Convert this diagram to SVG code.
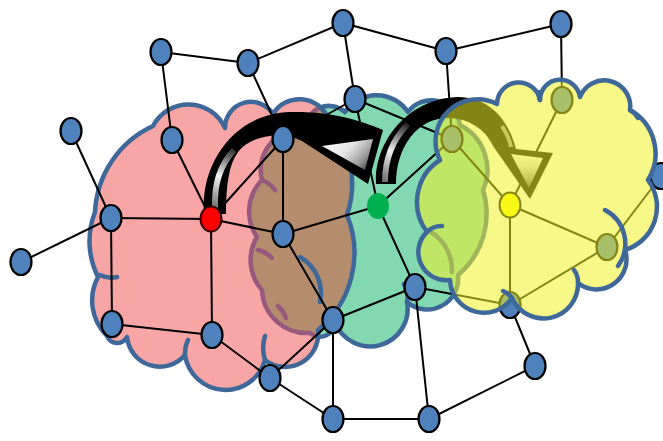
<svg xmlns="http://www.w3.org/2000/svg" xmlns:xlink="http://www.w3.org/1999/xlink" width="663" height="441" viewBox="0 0 663 441">
  <style>
    .cl-edge { fill: none; stroke: #3d6899; stroke-width: 4.5; stroke-linejoin: round; stroke-linecap: round; }
    .cl-purple { fill: none; stroke: #985a7c; stroke-width: 4.5; stroke-linejoin: round; stroke-linecap: round; }
    .conn line { stroke: #000; stroke-width: 2; }
    .nd { fill: #4f81bd; stroke: #000; stroke-width: 2.2; }
  </style>
  <defs>
    <path id="pinkShape" d="M 107,336 A 50 50 0 0 1 98,277 A 80 80 0 0 1 95,212 A 100 100 0 0 1 153,126 A 40 40 0 0 1 225,128 A 26 26 0 0 1 273,114 A 31 31 0 0 1 328,118 A 100 100 0 0 1 347,215 A 100 100 0 0 1 318,330 A 33 33 0 0 1 265,360 A 41 41 0 0 1 185,355 A 33 33 0 0 1 127,337 A 11 11 0 0 1 107,336 Z"/>
    <path id="greenShape" d="M 310,333 A 45 45 0 0 1 262,290 A 45 45 0 0 1 257,237 A 45 45 0 0 1 262,180 A 40 40 0 0 1 305,130 A 24 24 0 0 1 345,112 A 38 38 0 0 1 408,112 A 29 29 0 0 1 460,125 A 50 50 0 0 1 483,190 A 80 80 0 0 1 458,275 A 31 31 0 0 1 407,302 A 37.5 37.5 0 0 1 335,322 A 15 15 0 0 1 310,333 Z"/>
    <path id="greenHooks" d="M 262,180 A 30 30 0 0 1 275,190 M 258,250 A 30 30 0 0 1 272,258 M 278,306 A 30 30 0 0 1 286,318 M 407,302 A 25 25 0 0 0 404,284 M 431,232 A 45 45 0 0 1 452,272"/>
    <path id="yellowShape" d="M 427,232 A 50 50 0 0 1 440,160 A 42 42 0 0 1 497,104 A 21.7 21.7 0 0 1 540,100 A 20.1 20.1 0 0 1 580,97 A 26 26 0 0 1 630,110 A 50 50 0 0 1 648,180 A 45 45 0 0 1 625,250 A 30 30 0 0 1 578,283 A 34.5 34.5 0 0 1 512,298 A 34 34 0 0 1 450,280 A 28 28 0 0 1 427,232 Z"/>
    <clipPath id="inPink"><use xlink:href="#pinkShape"/></clipPath>
    <linearGradient id="stripA" gradientUnits="userSpaceOnUse" x1="215" y1="208" x2="236" y2="148">
      <stop offset="0" stop-color="#6e6e6e"/>
      <stop offset="0.5" stop-color="#f4f4f4"/>
      <stop offset="1" stop-color="#222"/>
    </linearGradient>
    <linearGradient id="stripB" gradientUnits="userSpaceOnUse" x1="385" y1="182" x2="408" y2="124">
      <stop offset="0" stop-color="#6e6e6e"/>
      <stop offset="0.5" stop-color="#f0f0f0"/>
      <stop offset="1" stop-color="#222"/>
    </linearGradient>
    <linearGradient id="headA" gradientUnits="userSpaceOnUse" x1="325" y1="138" x2="366" y2="176">
      <stop offset="0" stop-color="#ffffff"/>
      <stop offset="0.45" stop-color="#e4e4e4"/>
      <stop offset="0.75" stop-color="#9a9a9a"/>
      <stop offset="1" stop-color="#2a2a2a"/>
    </linearGradient>
    <linearGradient id="headB" gradientUnits="userSpaceOnUse" x1="527" y1="152" x2="529" y2="190">
      <stop offset="0" stop-color="#ffffff"/>
      <stop offset="0.4" stop-color="#d8d8d8"/>
      <stop offset="0.8" stop-color="#7a7a7a"/>
      <stop offset="1" stop-color="#2a2a2a"/>
    </linearGradient>
  </defs>

  <rect width="663" height="441" fill="#ffffff"/>

  <!-- back clouds: teal and pink, brown where they overlap -->
  <g id="cloud-teal">
    <use xlink:href="#greenShape" fill="#82d8b1"/>
    <use xlink:href="#greenShape" class="cl-edge"/>
    <use xlink:href="#greenHooks" class="cl-edge"/>
  </g>
  <g id="cloud-pink">
    <use xlink:href="#pinkShape" fill="#f8a5a5"/>
    <g clip-path="url(#inPink)">
      <use xlink:href="#greenShape" fill="#b48c6e"/>
      <use xlink:href="#greenShape" class="cl-purple"/>
      <use xlink:href="#greenHooks" class="cl-purple"/>
    </g>
    <use xlink:href="#pinkShape" class="cl-edge"/>
    <path class="cl-edge" d="M 100,275 Q 108,279 117,277 M 185,355 A 30 30 0 0 1 188,340 M 265,360 A 40 40 0 0 1 265,336 M 300,257 A 42 42 0 0 1 320,302"/>
  </g>

  <!-- connectors -->
  <g id="connectors" class="conn">
    <line x1="161" y1="52" x2="248" y2="63"/>
    <line x1="161" y1="52" x2="172" y2="140"/>
    <line x1="248" y1="63" x2="283" y2="139"/>
    <line x1="248" y1="63" x2="343" y2="23"/>
    <line x1="71" y1="131" x2="111" y2="218"/>
    <line x1="172" y1="140" x2="211" y2="219"/>
    <line x1="283" y1="139" x2="211" y2="219"/>
    <line x1="283" y1="139" x2="283" y2="234"/>
    <line x1="283" y1="139" x2="355" y2="99"/>
    <line x1="111" y1="218" x2="211" y2="219"/>
    <line x1="111" y1="218" x2="21" y2="262"/>
    <line x1="111" y1="218" x2="112" y2="324"/>
    <line x1="211" y1="219" x2="212" y2="335"/>
    <line x1="211" y1="219" x2="283" y2="234"/>
    <line x1="112" y1="324" x2="212" y2="335"/>
    <line x1="212" y1="335" x2="270" y2="378"/>
    <line x1="283" y1="234" x2="333" y2="320"/>
    <line x1="283" y1="234" x2="378" y2="206"/>
    <line x1="270" y1="378" x2="333" y2="320"/>
    <line x1="270" y1="378" x2="333" y2="419"/>
    <line x1="333" y1="320" x2="415" y2="287"/>
    <line x1="333" y1="320" x2="333" y2="419"/>
    <line x1="378" y1="206" x2="415" y2="287"/>
    <line x1="415" y1="287" x2="429" y2="419"/>
    <line x1="333" y1="419" x2="429" y2="419"/>
    <line x1="429" y1="419" x2="535" y2="366"/>
    <line x1="535" y1="366" x2="510" y2="305"/>
    <line x1="415" y1="287" x2="510" y2="305"/>
    <line x1="378" y1="206" x2="355" y2="99"/>
    <line x1="355" y1="99" x2="343" y2="23"/>
    <line x1="343" y1="23" x2="446" y2="51"/>
    <line x1="446" y1="51" x2="561" y2="24"/>
    <line x1="446" y1="51" x2="452" y2="139"/>
    <line x1="561" y1="24" x2="562" y2="100"/>
    <line x1="355" y1="99" x2="452" y2="139"/>
    <line x1="378" y1="206" x2="452" y2="139"/>
    <line x1="452" y1="139" x2="510" y2="205"/>
    <line x1="562" y1="100" x2="510" y2="205"/>
    <line x1="510" y1="205" x2="607" y2="247"/>
    <line x1="510" y1="205" x2="510" y2="305"/>
    <line x1="607" y1="247" x2="510" y2="305"/>
    <line x1="607" y1="247" x2="661" y2="176"/>
  </g>

  <!-- curved hop arrows -->
  <g id="arrow-red-to-green">
    <path fill="#000" d="M 204,214 C 200,160 238,113 290,112 C 330,111 360,120 383,130 L 368,184 L 302,141 C 280,130 250,136 238,152 C 229,164 226,185 226,214 Z"/>
    <path d="M 215,208 C 214,185 220,165 234,150" fill="none" stroke="url(#stripA)" stroke-width="6"/>
    <polygon points="322,146 373,139 365,170" fill="url(#headA)"/>
  </g>
  <g id="arrow-green-to-yellow">
    <path fill="#000" d="M 376,184 C 374,140 410,98 458,97 C 488,97 508,118 516,149 L 553,153 L 530,199 L 493,146 C 485,127 462,114 438,119 C 414,124 396,150 396,184 Z"/>
    <path d="M 385,182 C 385,160 392,140 408,124" fill="none" stroke="url(#stripB)" stroke-width="6"/>
    <path d="M 502,126 C 507,134 510,141 511,147" fill="none" stroke="#9a9a9a" stroke-width="4"/>
    <polygon points="511,154 543,158 529,188" fill="url(#headB)"/>
  </g>

  <!-- nodes -->
  <g id="n-a"><ellipse class="nd" cx="161" cy="52" rx="10.5" ry="13"/></g>
  <g id="n-b"><ellipse class="nd" cx="248" cy="63" rx="10.5" ry="13"/></g>
  <g id="n-c"><ellipse class="nd" cx="71" cy="131" rx="10.5" ry="13"/></g>
  <g id="n-d"><ellipse class="nd" cx="172" cy="140" rx="10.5" ry="13"/></g>
  <g id="n-e"><ellipse class="nd" cx="283" cy="139" rx="10.5" ry="13"/></g>
  <g id="n-f"><ellipse class="nd" cx="111" cy="218" rx="10.5" ry="13"/></g>
  <g id="n-red"><ellipse cx="211" cy="219" rx="10.5" ry="12.5" fill="#ff0000" stroke="#3a0000" stroke-width="2"/></g>
  <g id="n-g"><ellipse class="nd" cx="283" cy="234" rx="10.5" ry="13"/></g>
  <g id="n-h"><ellipse class="nd" cx="21" cy="262" rx="10.5" ry="13"/></g>
  <g id="n-i"><ellipse class="nd" cx="112" cy="324" rx="10.5" ry="13"/></g>
  <g id="n-j"><ellipse class="nd" cx="212" cy="335" rx="10.5" ry="13"/></g>
  <g id="n-k"><ellipse class="nd" cx="270" cy="378" rx="10.5" ry="13"/></g>
  <g id="n-l"><ellipse class="nd" cx="333" cy="320" rx="10.5" ry="13"/></g>
  <g id="n-m"><ellipse class="nd" cx="333" cy="419" rx="10.5" ry="13"/></g>
  <g id="n-n"><ellipse class="nd" cx="415" cy="287" rx="10.5" ry="13"/></g>
  <g id="n-o"><ellipse class="nd" cx="429" cy="419" rx="10.5" ry="13"/></g>
  <g id="n-p"><ellipse class="nd" cx="535" cy="366" rx="10.5" ry="13"/></g>
  <g id="n-q"><ellipse class="nd" cx="510" cy="305" rx="10.5" ry="13"/></g>
  <g id="n-green"><ellipse cx="378" cy="206" rx="11" ry="13" fill="#00b050"/></g>
  <g id="n-t1"><ellipse class="nd" cx="343" cy="23" rx="10.5" ry="13"/></g>
  <g id="n-t2"><ellipse class="nd" cx="355" cy="99" rx="10.5" ry="13"/></g>
  <g id="n-t3"><ellipse class="nd" cx="446" cy="51" rx="10.5" ry="13"/></g>
  <g id="n-t4"><ellipse class="nd" cx="561" cy="24" rx="10.5" ry="13"/></g>
  <g id="n-v1"><ellipse class="nd" cx="452" cy="139" rx="10.5" ry="13"/></g>
  <g id="n-v2"><ellipse class="nd" cx="562" cy="100" rx="10.5" ry="13"/></g>
  <g id="n-yellow"><ellipse cx="510" cy="205" rx="10.5" ry="12.5" fill="#ffff00" stroke="#000" stroke-width="2"/></g>
  <g id="n-v3"><ellipse class="nd" cx="607" cy="247" rx="10.5" ry="13"/></g>
  <g id="n-edge"><ellipse class="nd" cx="661" cy="176" rx="10.5" ry="13"/></g>

  <!-- front cloud: translucent yellow over the third community -->
  <g id="cloud-yellow">
    <use xlink:href="#yellowShape" fill="#f2f226" fill-opacity="0.55"/>
    <use xlink:href="#yellowShape" class="cl-edge"/>
    <path class="cl-edge" d="M 605,210 A 38 38 0 0 1 618,266 M 578,283 A 20 20 0 0 0 574,270 M 512,298 A 18 18 0 0 0 503,291 M 427,232 A 20 20 0 0 1 442,226 M 540,100 A 15 15 0 0 1 539,92 M 630,110 A 20 20 0 0 1 638,118"/>
  </g>
</svg>
